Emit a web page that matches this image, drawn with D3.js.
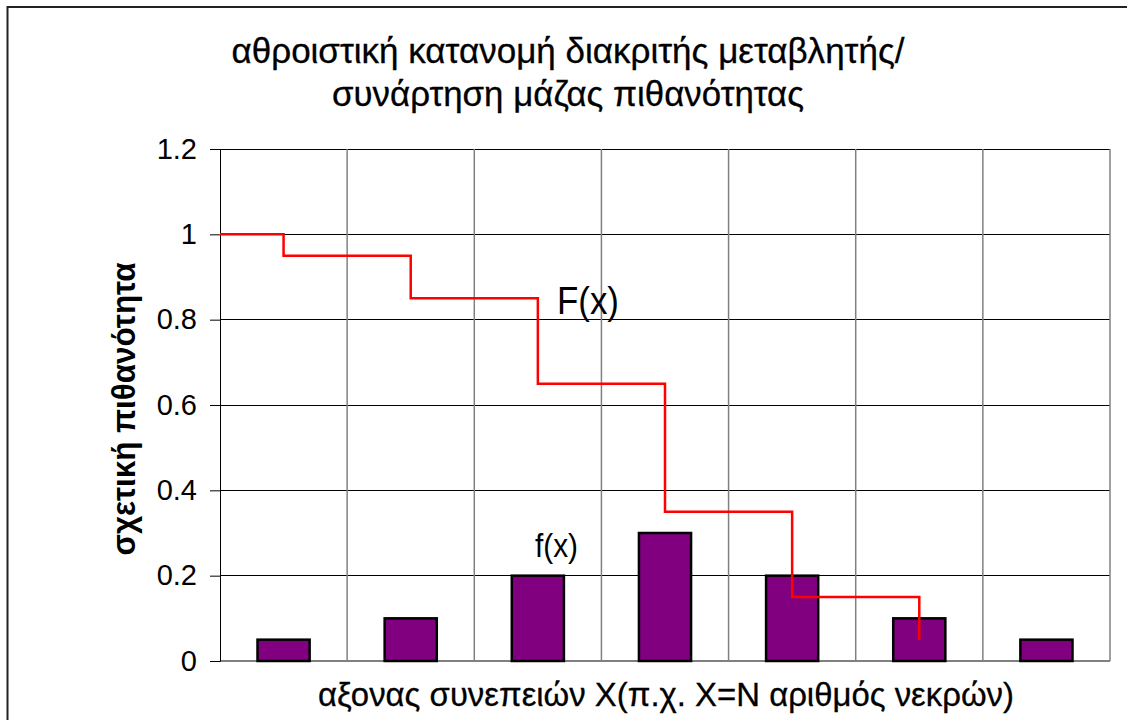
<!DOCTYPE html>
<html>
<head>
<meta charset="utf-8">
<script src="https://cdn.jsdelivr.net/npm/d3@7"></script>
<style>
  html, body { margin: 0; padding: 0; background: #fff; }
  svg { display: block; font-family: "Liberation Sans", Arial, sans-serif; }
</style>
</head>
<body>
<svg id="chart" width="1127" height="720"></svg>
<script>
// ---- data ----
const categories = ["0", "1", "2", "3", "4", "5", "6"];
const fValues = [0.05, 0.1, 0.2, 0.3, 0.2, 0.1, 0.05];          // f(x) bars
const FValues = [1, 0.95, 0.85, 0.65, 0.35, 0.15, 0.05];         // F(x) step line
const yTicks = [0, 0.2, 0.4, 0.6, 0.8, 1, 1.2];
const titleLines = ["αθροιστική κατανομή διακριτής μεταβλητής/", "συνάρτηση μάζας πιθανότητας"];
const yLabel = "σχετική πιθανότητα";
const xLabel = "αξονας συνεπειών X(π.χ. X=N αριθμός νεκρών)";

// ---- layout ----
const W = 1127, H = 720;
const plot = { left: 220, right: 1110, top: 149, bottom: 661 };
const svg = d3.select("#chart");

// outer frame (chart area border, cut off at right/bottom)
svg.append("rect").attr("x", 7.5).attr("y", 7).attr("width", 1200).attr("height", 800)
  .attr("fill", "none").attr("stroke", "#222").attr("stroke-width", 2);

const x = d3.scaleBand().domain(categories).range([plot.left, plot.right]).padding(0);
const y = d3.scaleLinear().domain([0, 1.2]).range([plot.bottom, plot.top]);

// horizontal gridlines
svg.append("g").selectAll("line").data(yTicks.filter(d => d > 0)).join("line")
  .attr("x1", plot.left).attr("x2", plot.right)
  .attr("y1", d => y(d)).attr("y2", d => y(d))
  .attr("stroke", "#000").attr("stroke-width", 1).attr("shape-rendering", "crispEdges");

// vertical gridlines at category boundaries
const bounds = categories.map(c => x(c)).concat([x(categories[categories.length - 1]) + x.bandwidth()]);
svg.append("g").selectAll("line").data(bounds.slice(1)).join("line")
  .attr("x1", d => d).attr("x2", d => d)
  .attr("y1", plot.top).attr("y2", plot.bottom)
  .attr("stroke", "#808080").attr("stroke-width", 1.5);

// baseline
svg.append("line").attr("x1", plot.left).attr("x2", plot.right)
  .attr("y1", y(0)).attr("y2", y(0)).attr("stroke", "#808080").attr("stroke-width", 2);

// y axis
const yAxis = d3.axisLeft(y).tickValues(yTicks).tickFormat(d => String(d)).tickSize(10).tickPadding(13);
const gy = svg.append("g").attr("transform", `translate(${plot.left},0)`).call(yAxis);
gy.select(".domain").attr("stroke", "#000").attr("stroke-width", 1);
gy.selectAll(".tick line").attr("stroke", "#000").attr("stroke-width", 1);
gy.selectAll(".tick text").attr("font-size", 29).attr("fill", "#000")
  .attr("font-family", "'Liberation Sans', Arial, sans-serif");

// bars
const barW = x.bandwidth() * 0.41;
svg.append("g").selectAll("rect").data(fValues).join("rect")
  .attr("x", (d, i) => x(categories[i]) + x.bandwidth() / 2 - barW / 2)
  .attr("y", d => y(d))
  .attr("width", barW)
  .attr("height", d => y(0) - y(d))
  .attr("fill", "#800080").attr("stroke", "#000").attr("stroke-width", 2.5);

// F(x) step line
const stepPts = FValues.map((v, i) => [
  i === 0 ? plot.left : x(categories[i - 1]) + x.bandwidth() / 2, v
]);
const line = d3.line().x(d => d[0]).y(d => y(d[1])).curve(d3.curveStepAfter);
svg.append("path").datum(stepPts).attr("d", line)
  .attr("fill", "none").attr("stroke", "#ff0000").attr("stroke-width", 2.5);

// annotations
svg.append("text").attr("x", 557).attr("y", 314).attr("font-size", 38).attr("fill", "#000")
  .attr("textLength", 62).attr("lengthAdjust", "spacingAndGlyphs").text("F(x)");
svg.append("text").attr("x", 535).attr("y", 557).attr("font-size", 34).attr("fill", "#000")
  .attr("textLength", 43).attr("lengthAdjust", "spacingAndGlyphs").text("f(x)");

// title
svg.append("g").selectAll("text").data(titleLines).join("text")
  .attr("x", 568).attr("y", (d, i) => 63 + i * 43)
  .attr("text-anchor", "middle").attr("font-size", 35).attr("fill", "#000")
  .attr("stroke", "#000").attr("stroke-width", 0.3)
  .attr("textLength", (d, i) => i === 0 ? 673 : 472).attr("lengthAdjust", "spacingAndGlyphs")
  .text(d => d);

// axis titles
svg.append("text").attr("transform", `translate(135,${(plot.top + plot.bottom) / 2 + 4}) rotate(-90)`)
  .attr("text-anchor", "middle").attr("font-size", 33).attr("font-weight", "bold").attr("fill", "#000")
  .attr("textLength", 293).attr("lengthAdjust", "spacingAndGlyphs")
  .text(yLabel);

svg.append("text").attr("x", 666).attr("y", 706)
  .attr("text-anchor", "middle").attr("font-size", 33).attr("fill", "#000")
  .attr("stroke", "#000").attr("stroke-width", 0.3)
  .attr("textLength", 696).attr("lengthAdjust", "spacingAndGlyphs")
  .text(xLabel);
</script>
</body>
</html>
